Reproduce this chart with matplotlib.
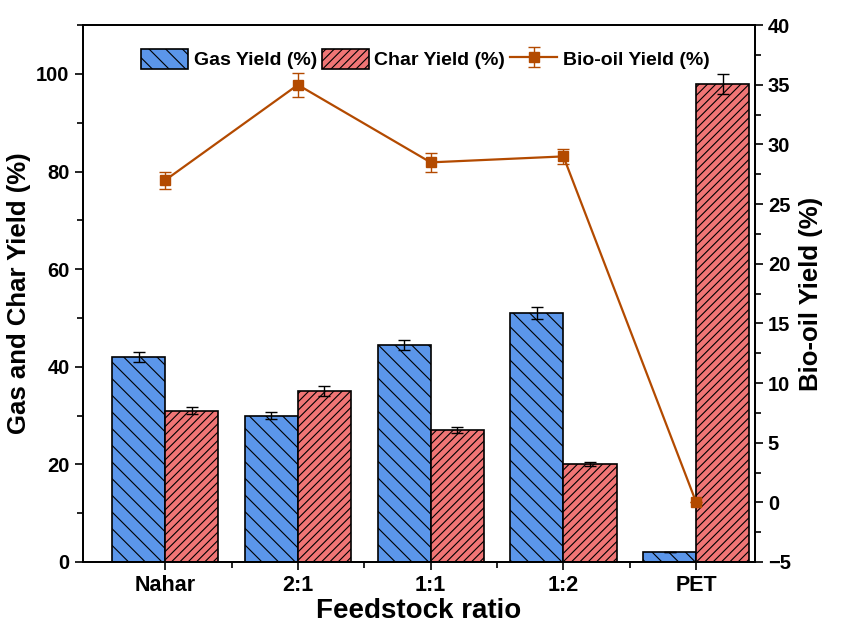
import numpy as np
import matplotlib.pyplot as plt
from matplotlib.ticker import MultipleLocator, FixedLocator

plt.rcParams['font.family'] = ['Liberation Sans', 'DejaVu Sans']
plt.rcParams['font.weight'] = 'bold'
plt.rcParams['hatch.linewidth'] = 0.8

# --- data ---
categories = ['Nahar', '2:1', '1:1', '1:2', 'PET']
gas_yield = [42.0, 30.0, 44.5, 51.0, 2.0]
gas_err = [1.0, 0.7, 1.0, 1.3, 0.0]
char_yield = [31.0, 35.0, 27.0, 20.0, 98.0]
char_err = [0.7, 1.0, 0.6, 0.4, 2.0]
oil_yield = [27.0, 35.0, 28.5, 29.0, 0.0]
oil_err = [0.7, 1.0, 0.8, 0.6, 0.0]

gas_color = '#5b96ea'
char_color = '#f07575'
oil_color = '#b34a00'

fig = plt.figure(figsize=(8.45, 6.3), dpi=100)
ax = fig.add_axes([0.098, 0.108, 0.795, 0.852])
x = np.arange(len(categories))
w = 0.4

b1 = ax.bar(x - w/2, gas_yield, w, color=gas_color, edgecolor='black',
            linewidth=1.2, hatch='\\\\', label='Gas Yield (%)')
ax.errorbar(x - w/2, gas_yield, yerr=gas_err, fmt='none', ecolor='black',
            elinewidth=1, capsize=4.5, capthick=1)
b2 = ax.bar(x + w/2, char_yield, w, color=char_color, edgecolor='black',
            linewidth=1.2, hatch='////', label='Char Yield (%)')
ax.errorbar(x + w/2, char_yield, yerr=char_err, fmt='none', ecolor='black',
            elinewidth=1, capsize=4.5, capthick=1)

ax.set_xlim(-0.62, 4.44)
ax.set_ylim(0, 110)
ax.set_xticks(x)
ax.set_xticklabels(categories)
ax.xaxis.set_minor_locator(FixedLocator(x[:-1] + 0.5))
ax.yaxis.set_major_locator(MultipleLocator(20))
ax.yaxis.set_minor_locator(MultipleLocator(10))
ax.tick_params(axis='both', which='major', direction='out', length=6,
               width=1.2, labelsize=14.5)
ax.tick_params(axis='x', which='major', labelsize=15.5)
ax.tick_params(axis='both', which='minor', direction='out', length=4, width=1.2)
ax.tick_params(top=False, which='both')
ax.set_xlabel('Feedstock ratio', fontsize=20, fontweight='bold', labelpad=1)
ax.set_ylabel('Gas and Char Yield (%)', fontsize=18.5, fontweight='bold',
              labelpad=4)
for s in ax.spines.values():
    s.set_linewidth(1.3)

ax2 = ax.twinx()
ln = ax2.errorbar(x, oil_yield, yerr=oil_err, color=oil_color, marker='s',
                  markersize=7.5, linewidth=1.6, capsize=4.5, capthick=1,
                  elinewidth=1, label='Bio-oil Yield (%)')
ax2.set_ylim(-5, 40)
ax2.yaxis.set_major_locator(MultipleLocator(5))
ax2.yaxis.set_minor_locator(MultipleLocator(2.5))
ax2.tick_params(axis='y', which='major', direction='out', length=6,
                width=1.2, labelsize=14.5)
ax2.tick_params(axis='y', which='minor', direction='out', length=4, width=1.2)
ax2.set_ylabel('Bio-oil Yield (%)', fontsize=18.5, fontweight='bold', labelpad=6)
for s in ax2.spines.values():
    s.set_linewidth(1.3)

handles = [b1, b2, ln]
labels = [h.get_label() for h in handles]
ax2.legend(handles, labels, loc='upper center', bbox_to_anchor=(0.51, 1.0),
           ncol=3, frameon=False, fontsize=14, handlelength=2.4,
           handleheight=1.25, handletextpad=0.3, columnspacing=0.25,
           borderaxespad=0.8)

fig.savefig('out.png', dpi=100)
